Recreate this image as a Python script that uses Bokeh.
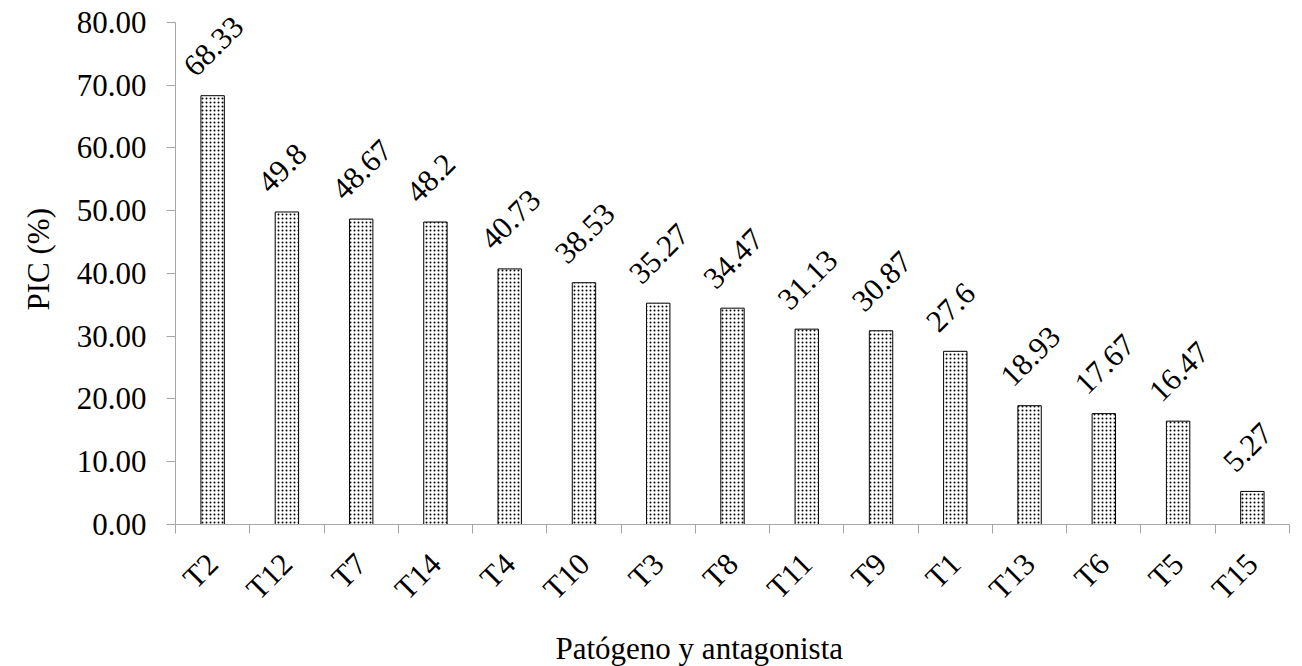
import numpy as np
from math import pi
from bokeh.plotting import figure
from bokeh.models import ColumnDataSource, FixedTicker, PrintfTickFormatter, Range1d, Title
from bokeh.core.properties import value
from bokeh.embed import file_html
from bokeh.resources import INLINE

categories = ["T2", "T12", "T7", "T14", "T4", "T10", "T3", "T8", "T11", "T9", "T1", "T13", "T6", "T5", "T15"]
pic_values = [68.33, 49.8, 48.67, 48.2, 40.73, 38.53, 35.27, 34.47, 31.13, 30.87, 27.6, 18.93, 17.67, 16.47, 5.27]
y_ticks = [0, 10, 20, 30, 40, 50, 60, 70, 80]
x_title = "Patógeno y antagonista"
y_title = "PIC (%)"

FONT = "Liberation Serif"
FS = "31px"

n = len(categories)
centers = np.arange(n) + 0.5
src = ColumnDataSource(dict(x=centers, top=pic_values,
                            label=[str(v) for v in pic_values]))

p = figure(frame_width=1114, frame_height=524, output_backend="svg", toolbar_location=None,
           x_range=Range1d(0, n), y_range=Range1d(0, 83.5),
           min_border_left=175, min_border_right=5, min_border_top=0,
           min_border_bottom=138)
p.outline_line_color = None
p.grid.visible = False
p.background_fill_color = "white"

p.vbar(x="x", top="top", width=0.315, source=src, fill_color="white",
       line_color="black", line_width=1, hatch_pattern="dot",
       hatch_color="black", hatch_scale=4, hatch_weight=2)

p.text(x="x", y="top", text="label", source=src, angle=pi / 4,
       x_offset=-24, y_offset=-25, text_align="left", text_baseline="alphabetic",
       text_font=value(FONT), text_font_size=FS, text_color="black")

AX = "#a6a6a6"
# x axis
xa = p.xaxis[0]
xa.ticker = FixedTicker(ticks=list(centers), minor_ticks=list(range(n + 1)))
xa.major_label_overrides = {float(c): cat for c, cat in zip(centers, categories)}
xa.major_label_orientation = pi / 4
xa.major_tick_out = 0
xa.major_tick_in = 0
xa.minor_tick_out = 9
xa.minor_tick_in = 0
xa.minor_tick_line_color = AX
xa.axis_line_color = AX
xa.major_label_text_font = FONT
xa.major_label_text_font_size = FS
xa.major_label_text_color = "black"
xa.major_label_standoff = 25

# y axis
ya = p.yaxis[0]
ya.bounds = (0, 80)
ya.ticker = FixedTicker(ticks=y_ticks)
ya.formatter = PrintfTickFormatter(format="%.2f")
ya.major_tick_out = 9
ya.major_tick_in = 0
ya.minor_tick_line_color = None
ya.major_tick_line_color = AX
ya.axis_line_color = AX
ya.major_label_text_font = FONT
ya.major_label_text_font_size = FS
ya.major_label_text_color = "black"
ya.major_label_standoff = 20

xt = Title(text=x_title, align="left", offset=380, standoff=15,
           text_font=FONT, text_font_size=FS, text_font_style="normal",
           text_color="black")
p.add_layout(xt, "below")

yt = Title(text=y_title, align="left", offset=214, standoff=35,
           text_font=FONT, text_font_size=FS, text_font_style="normal",
           text_color="black")
p.add_layout(yt, "left")

open("out.html", "w").write(file_html(p, INLINE))
